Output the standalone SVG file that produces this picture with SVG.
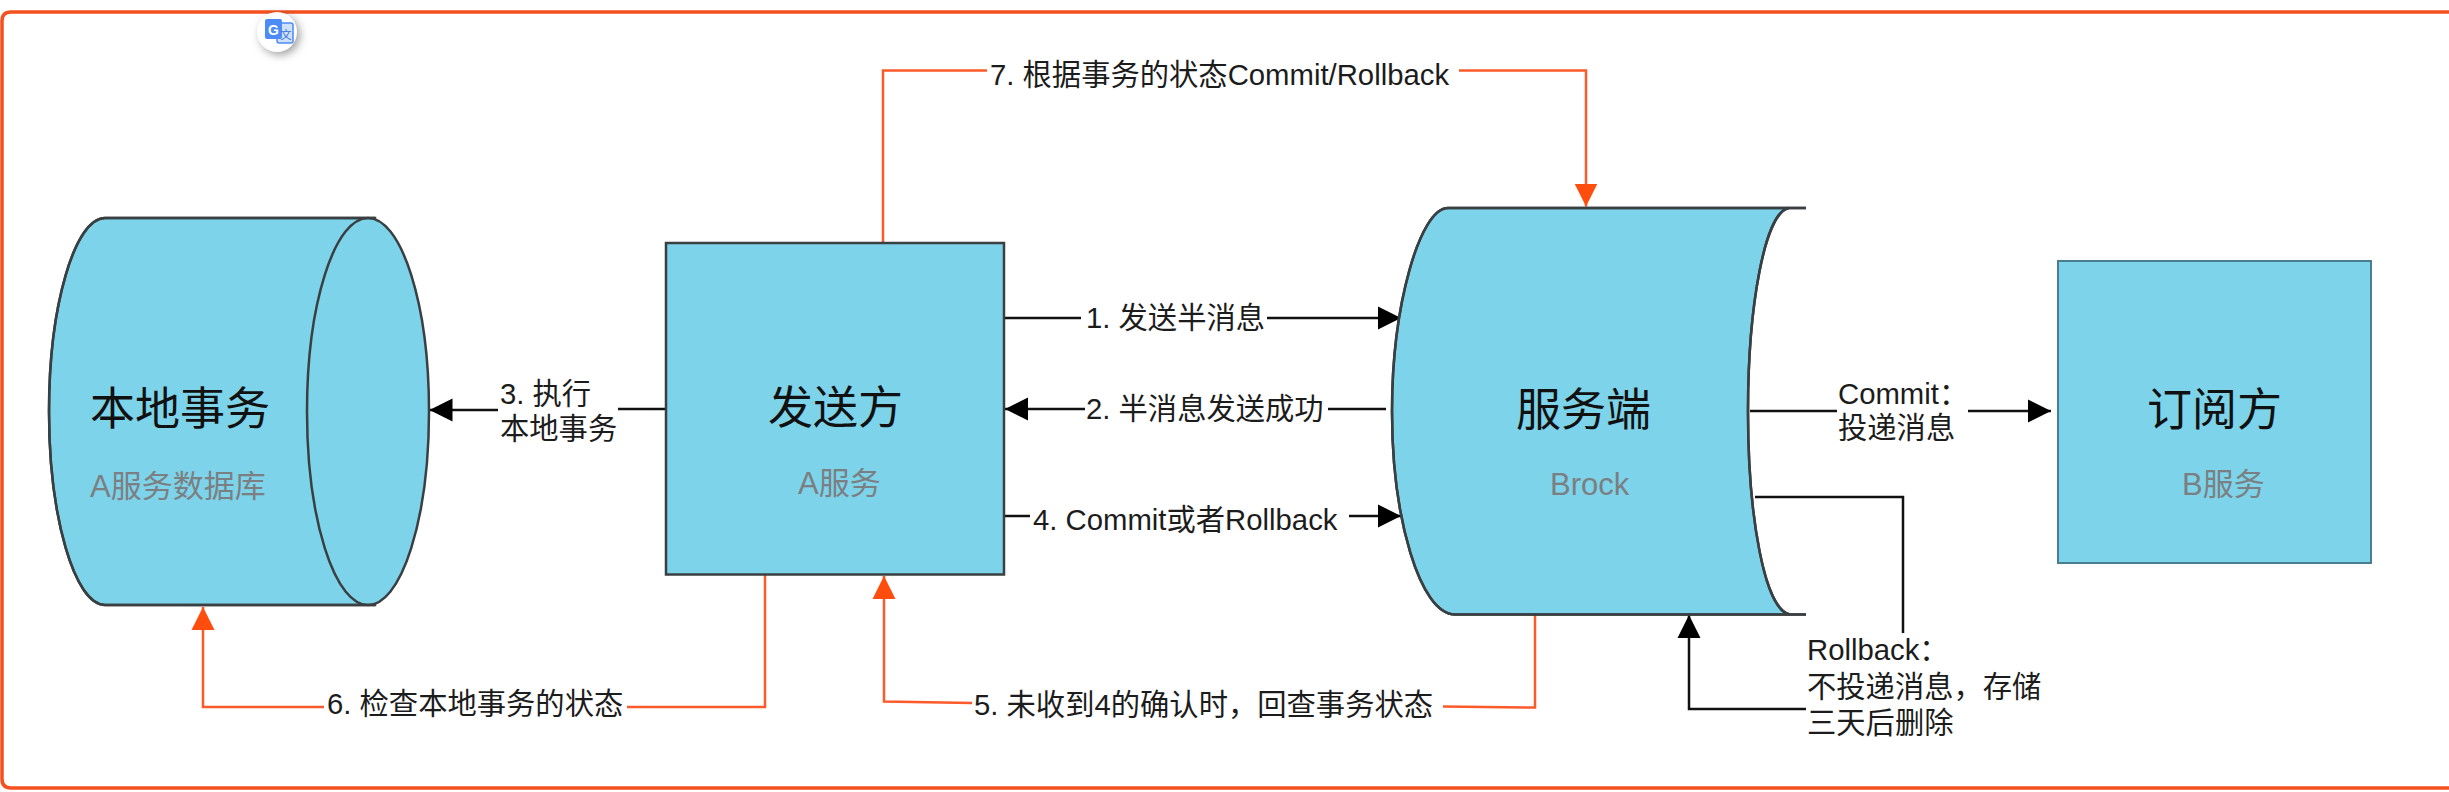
<svg xmlns="http://www.w3.org/2000/svg" width="2449" height="792" viewBox="0 0 2449 792">
<style>
text{font-family:"Liberation Sans","Noto Sans CJK SC",sans-serif}
.shape{fill:#7dd3e9;stroke:#3a3f42;stroke-width:2.5}
.edge{fill:none;stroke:#3a3f42;stroke-width:2.5}
.title{font-size:45px;fill:#111}
.sub{font-size:31px;fill:#7c7f82}
.label{font-size:29.300px;fill:#1c1c1c}
.k{fill:none;stroke:#111;stroke-width:2.500}
.o{fill:none;stroke:#fb5a2a;stroke-width:2.500}
</style>
<defs>
<marker id="ab" markerUnits="userSpaceOnUse" markerWidth="24" markerHeight="24" viewBox="0 0 24 24" refX="23" refY="12" orient="auto"><path d="M0 .5L23 12L0 23.500Z" fill="#000"/></marker>
<marker id="ao" markerUnits="userSpaceOnUse" markerWidth="24" markerHeight="24" viewBox="0 0 24 24" refX="23" refY="12" orient="auto"><path d="M0 .5L23 12L0 23.500Z" fill="#ff4d0d"/></marker>
<filter id="sh" x="-50%" y="-50%" width="200%" height="200%"><feGaussianBlur stdDeviation="4"/></filter>
</defs>
<rect width="2449" height="792" fill="#fff"/>
<path id="frame" d="M2449 12H11Q2 12 2 21V779Q2 788 11 788H2449" fill="none" stroke="#f4511e" stroke-width="3.500"/>
<g id="translate-icon">
<circle cx="280" cy="35" r="20" fill="#555" opacity=".55" filter="url(#sh)"/>
<circle cx="277" cy="32" r="20" fill="#fff"/>
<rect x="277" y="23" width="16" height="20" rx="2" fill="#cfe0fb" stroke="#4d8bf5" stroke-width="1.500"/>
<rect x="265" y="19" width="17" height="20" rx="2" fill="#4d8bf5"/>
<text x="273.500" y="35" text-anchor="middle" font-size="14" font-weight="700" style="fill:#fff">G</text>
<text x="286" y="39" text-anchor="middle" font-size="11" style="fill:#2f6fde">文</text>
</g>
<g id="connectors">
<path class="k" d="M498 410H429.500" marker-end="url(#ab)"/><path class="k" d="M666 409H618"/>
<path class="k" d="M1004 318H1081M1267 318H1401" marker-end="url(#ab)"/>
<path class="k" d="M1085 409H1005" marker-end="url(#ab)"/><path class="k" d="M1386 409H1328"/>
<path class="k" d="M1004 516H1030M1349 516H1401" marker-end="url(#ab)"/>
<path class="k" d="M1750 411H1837M1968 411H2051" marker-end="url(#ab)"/>
<path class="k" d="M1755 497H1903V633"/>
<path class="k" d="M1806 709H1689V615" marker-end="url(#ab)"/>
<path class="o" d="M883 243V70.500H987"/>
<path class="o" d="M1459 70.500H1586V206.500" marker-end="url(#ao)"/>
<path class="o" d="M972 703L884 701.500V576" marker-end="url(#ao)"/>
<path class="o" d="M1443 706.500L1535 707.500V615"/>
<path class="o" d="M765 574.500V707H627"/>
<path class="o" d="M324 707H203V607" marker-end="url(#ao)"/>
</g>
<g id="node-local">
<path class="shape" d="M105 218H375V605H105C75 605 49 518 49 411.500C49 305 75 218 105 218Z" stroke="none"/>
<ellipse class="shape" cx="368" cy="411.500" rx="61" ry="193.500"/>
<path class="edge" d="M375 218H105C75 218 49 305 49 411.500C49 518 75 605 105 605H375"/>
<text class="title" x="90" y="425">本地事务</text>
<text class="sub" x="90" y="497">A服务数据库</text>
</g>
<g id="node-sender">
<rect class="shape" x="666" y="243" width="338" height="331.500"/>
<text class="title" x="768" y="424">发送方</text>
<text class="sub" x="798" y="494">A服务</text>
</g>
<g id="node-broker">
<path class="shape" d="M1448 208H1789C1765 212 1748 305 1748 411.500C1748 518 1765 611 1790 614.500H1455C1420 614.500 1392 518 1392 411.500C1392 305 1420 208 1448 208Z" stroke="none"/>
<path class="edge" d="M1806 208H1448C1420 208 1392 305 1392 411.500C1392 518 1420 614.500 1455 614.500H1806"/>
<path class="edge" d="M1806 208H1789C1765 212 1748 305 1748 411.500C1748 518 1765 611 1790 614.500H1806" stroke-width="2"/>
<text class="title" x="1516" y="426">服务端</text>
<text class="sub" x="1550" y="495">Brock</text>
</g>
<g id="node-subscriber">
<rect class="shape" x="2058" y="261" width="313" height="302" style="stroke:#4a7f90;stroke-width:2"/>
<text class="title" x="2147" y="426">订阅方</text>
<text class="sub" x="2182" y="495">B服务</text>
</g>
<g id="labels">
<text class="label" x="500" y="404">3. 执行</text>
<text class="label" x="500" y="439">本地事务</text>
<text class="label" x="1086" y="328">1. 发送半消息</text>
<text class="label" x="1086" y="419">2. 半消息发送成功</text>
<text class="label" x="1033" y="530">4. Commit或者Rollback</text>
<text class="label" x="990" y="85">7. 根据事务的状态Commit/Rollback</text>
<text class="label" x="974" y="715">5. 未收到4的确认时，回查事务状态</text>
<text class="label" x="327" y="714">6. 检查本地事务的状态</text>
<text class="label" x="1838" y="404">Commit：</text>
<text class="label" x="1838" y="438">投递消息</text>
<text class="label" x="1807" y="660">Rollback：</text>
<text class="label" x="1807" y="697">不投递消息，存储</text>
<text class="label" x="1807" y="733">三天后删除</text>
</g>
</svg>
